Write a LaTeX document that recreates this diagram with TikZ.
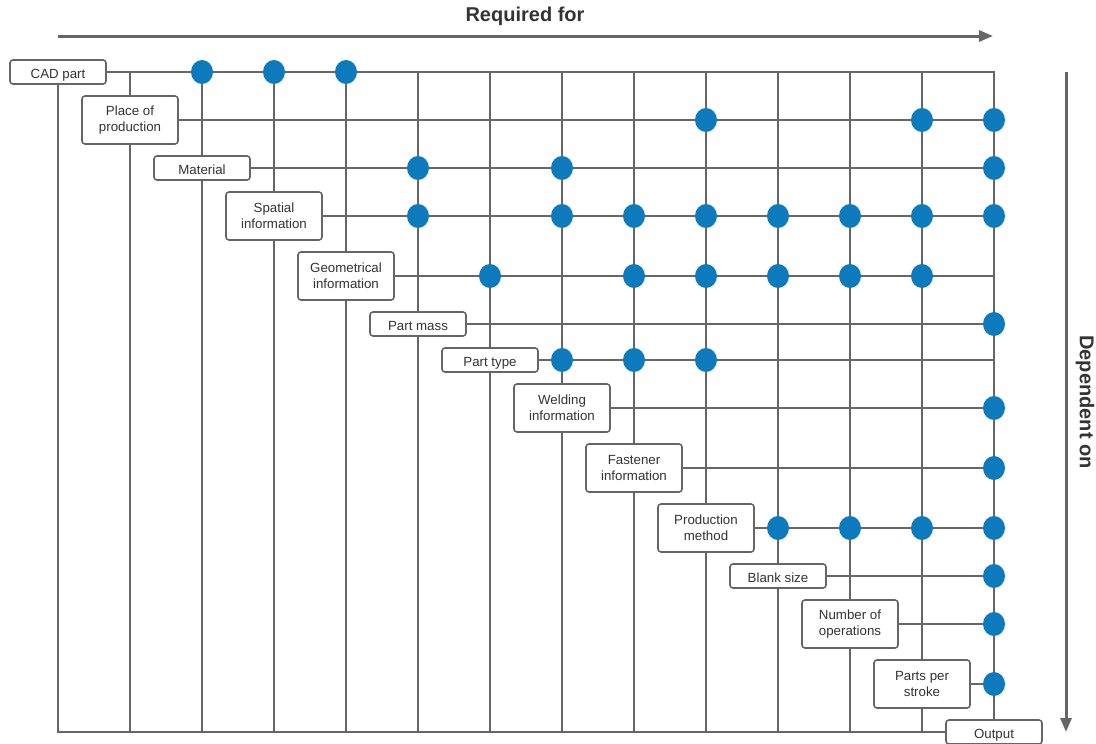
\documentclass[tikz,border=0pt]{standalone}
\usepackage{fontspec}
\setmainfont{Liberation Sans}
\usetikzlibrary{arrows.meta,shapes.geometric}
\definecolor{wire}{RGB}{102,102,102}
\definecolor{dotblue}{RGB}{12,122,189}
\definecolor{txt}{RGB}{51,51,51}
\begin{document}
\begin{tikzpicture}[x=1pt,y=-1pt,
  wirel/.style={draw=wire,line width=2pt},
  param/.style={draw=wire,line width=1.6pt,fill=white,rounded corners=3pt,
    minimum width=96pt,minimum height=24pt,inner sep=1pt,
    font=\fontsize{13.3}{16}\selectfont,text=txt,align=center},
  oneline/.style={text height=14pt,text depth=2pt},
  tall/.style={minimum height=48pt},
  hit/.style={ellipse,fill=dotblue,minimum width=22pt,minimum height=24pt,inner sep=0pt},
  bigarrow/.style={draw=wire,line width=3pt,-{Triangle[length=14pt,width=11pt]}},
  heading/.style={font=\fontsize{20}{24}\selectfont\bfseries,text=txt}
]
\useasboundingbox (0,0) rectangle (1096,744);

% axis headings and arrows
\node[heading] (req) at (525,16) {Required for};
\coordinate (reqS) at (58,36);
\coordinate (reqE) at (993,36);
\draw[bigarrow] (reqS) -- (reqE);
\node[heading,rotate=-90] (dep) at (1085,402) {Dependent on};
\coordinate (depS) at (1066,72);
\coordinate (depE) at (1066,732);
\draw[bigarrow] (depS) -- (depE);

% parameter boxes along the diagonal
\node[param,oneline] (b0)  at (58,72)   {CAD part};
\node[param,tall]    (b1)  at (130,120) {Place of\\production};
\node[param,oneline] (b2)  at (202,168) {Material};
\node[param,tall]    (b3)  at (274,216) {Spatial\\information};
\node[param,tall]    (b4)  at (346,276) {Geometrical\\information};
\node[param,oneline] (b5)  at (418,324) {Part mass};
\node[param,oneline] (b6)  at (490,360) {Part type};
\node[param,tall]    (b7)  at (562,408) {Welding\\information};
\node[param,tall]    (b8)  at (634,468) {Fastener\\information};
\node[param,tall]    (b9)  at (706,528) {Production\\method};
\node[param,oneline] (b10) at (778,576) {Blank size};
\node[param,tall]    (b11) at (850,624) {Number of\\operations};
\node[param,tall]    (b12) at (922,684) {Parts per\\stroke};
\node[param,oneline] (b13) at (994,732) {Output};

% grid wires: each column runs through its box, each row runs to the output column
\foreach \k/\x/\y in {1/130/120,2/202/168,3/274/216,4/346/276,5/418/324,6/490/360,
                      7/562/408,8/634/468,9/706/528,10/778/576,11/850/624,12/922/684}{
  \coordinate (top\k) at (\x,72);
  \coordinate (bot\k) at (\x,732);
  \coordinate (end\k) at (994,\y);
  \draw[wirel] (top\k) -- (b\k.north);
  \draw[wirel] (b\k.south) -- (bot\k);
  \draw[wirel] (b\k.east) -- (end\k);
}
\draw[wirel] (b0.east) -| (b13.north);
\draw[wirel] (b0.south) |- (b13.west);

% dependency markers: row/column pairs
\foreach \r/\c in {0/2,0/3,0/4,
                   1/9,1/12,1/13,
                   2/5,2/7,2/13,
                   3/5,3/7,3/8,3/9,3/10,3/11,3/12,3/13,
                   4/6,4/8,4/9,4/10,4/11,4/12,
                   5/13,
                   6/7,6/8,6/9,
                   7/13,8/13,
                   9/10,9/11,9/12,9/13,
                   10/13,11/13,12/13}{
  \path (b\r.center) -- (b\r.center -| b\c.center) node[hit,at end] (d\r-\c) {};
}
\end{tikzpicture}
\end{document}
